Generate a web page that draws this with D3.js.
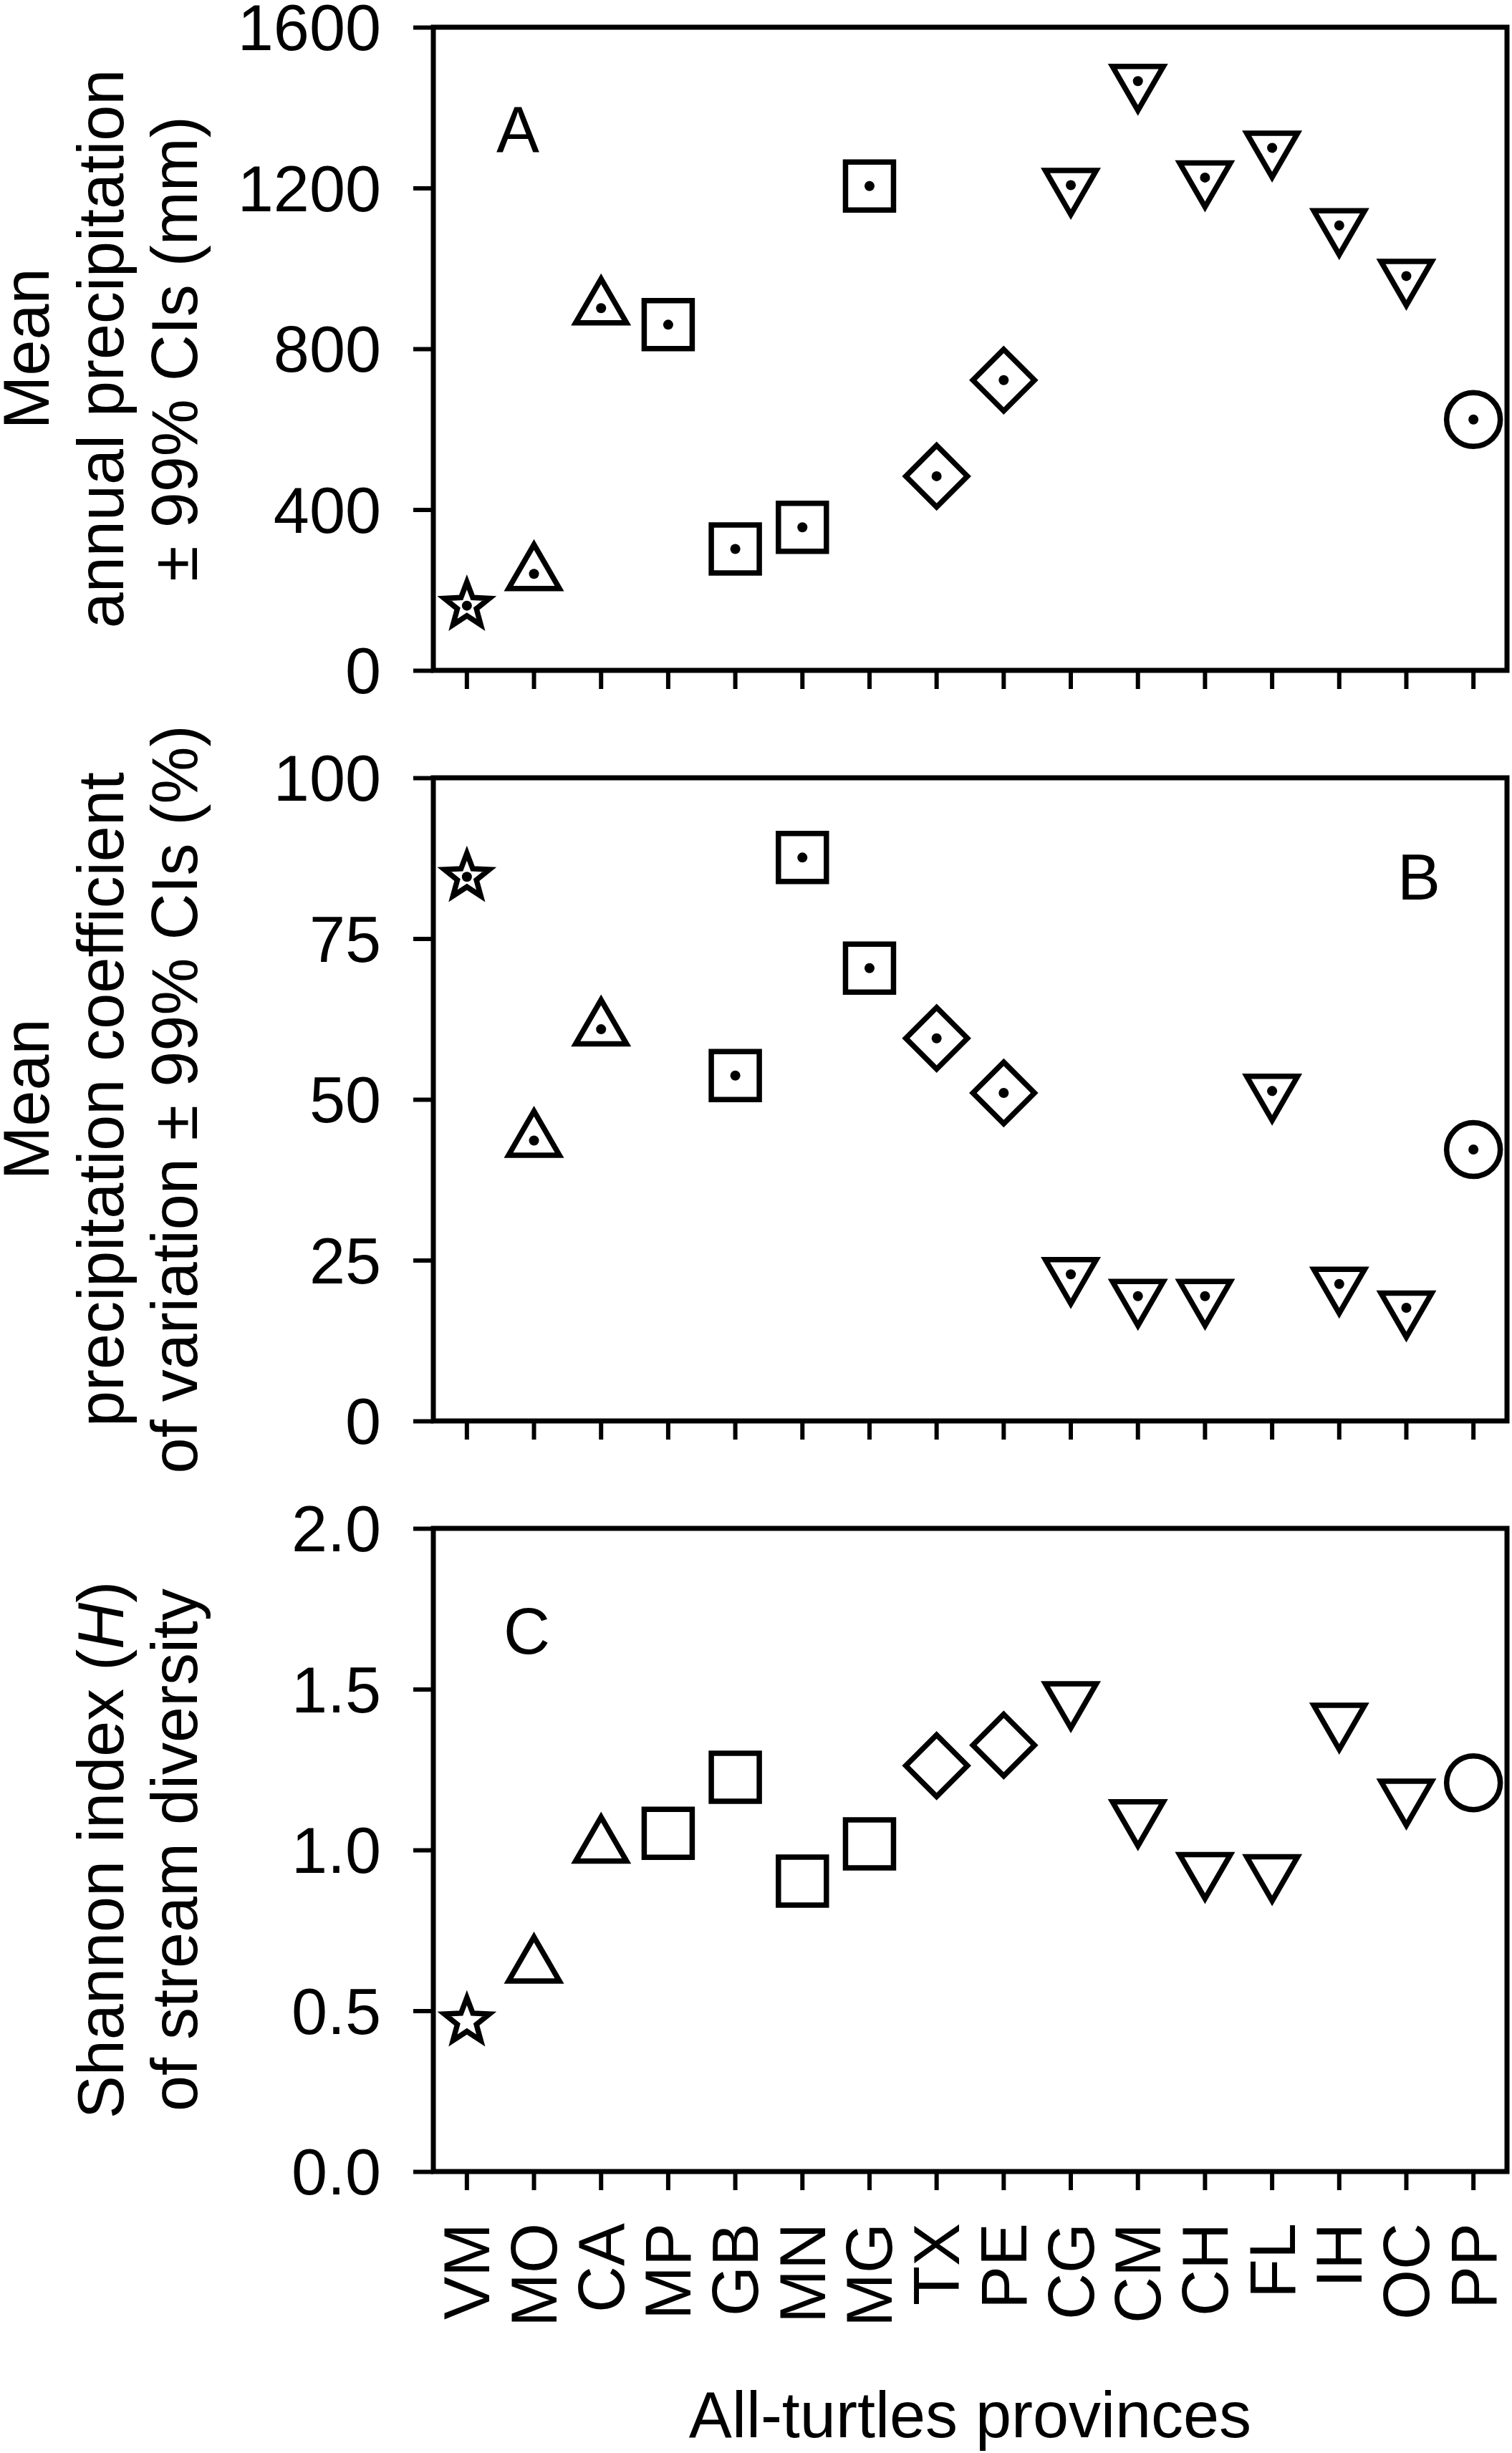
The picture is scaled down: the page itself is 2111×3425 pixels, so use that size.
<!DOCTYPE html>
<html>
<head>
<meta charset="utf-8">
<style>
  body { margin: 0; background: white; }
  svg { display: block; font-family: 'Liberation Sans', Arial, sans-serif; }
</style>
</head>
<body>
<svg width="2111" height="3425"></svg>
<script src="https://d3js.org/d3.v7.min.js"></script>
<script>
// provinces along the x axis and the marker used for each
const provinces = ["VM","MO","CA","MP","GB","MN","MG","TX","PE","CG","CM","CH","FL","IH","OC","PP"];
const shapes = ["star","triUp","triUp","square","square","square","square","diamond","diamond",
                "triDown","triDown","triDown","triDown","triDown","triDown","circle"];

// panel values
const precipitation = [161, 240, 901, 860, 302, 356, 1205, 483, 722, 1207, 1466, 1226, 1300, 1107, 981, 624];
const precipCV = [84.6, 43.6, 60.9, null, 53.7, 87.6, 70.4, 59.5, 51.0, 22.8, 19.4, 19.4, 51.3, 21.3, 17.6, 42.2];
const shannon = [0.467, 0.638, 1.011, 1.052, 1.226, 0.903, 1.019, 1.262, 1.326, 1.471, 1.104, 0.940, 0.933, 1.404, 1.168, 1.209];

const ticksA = [0, 400, 800, 1200, 1600];
const ticksB = [0, 25, 50, 75, 100];
const ticksC = [0, 0.5, 1.0, 1.5, 2.0];

const panels = [
  {values: precipitation, ticks: ticksA, fmt: d3.format("d"), letter: "A", lx: 88, ly: 174, dots: true,
   title: ["Mean", "annual precipitation", "± 99% CIs (mm)"], top: 38},
  {values: precipCV, ticks: ticksB, fmt: d3.format("d"), letter: "B", lx: 1346, ly: 170, dots: true,
   title: ["Mean", "precipitation coefficient", "of variation ± 99% CIs (%)"], top: 1086},
  {values: shannon, ticks: ticksC, fmt: d3.format(".1f"), letter: "C", lx: 98, ly: 175, dots: false,
   title: ["Shannon index (<H>)", "of stream diversity"], top: 2134}
];

const left = 605, right = 2104, ph = 898;
const fontSize = 90;
const svg = d3.select("svg");
svg.append("rect").attr("width", 2111).attr("height", 3425).attr("fill", "white");

const x = d3.scaleBand().domain(provinces).range([left, right]);
const cx = d => x(d) + x.bandwidth() / 2;

// marker path strings centred at 0,0
function markerPath(s) {
  const p = d3.path();
  if (s === "square") {
    p.rect(-33.5, -33.5, 67, 67);
  } else if (s === "diamond") {
    p.moveTo(0, -43); p.lineTo(43, 0); p.lineTo(0, 43); p.lineTo(-43, 0); p.closePath();
  } else if (s === "circle") {
    p.arc(0, 0, 37.5, 0, 2 * Math.PI);
  } else if (s === "triUp" || s === "triDown") {
    const R = 41, k = s === "triUp" ? 1 : -1;
    p.moveTo(0, -R * k);
    p.lineTo(R * Math.sin(Math.PI / 3), R / 2 * k);
    p.lineTo(-R * Math.sin(Math.PI / 3), R / 2 * k);
    p.closePath();
  } else if (s === "star") {
    const R = 33, r = 14;
    for (let i = 0; i < 10; i++) {
      const a = i * Math.PI / 5;
      const rr = i % 2 === 0 ? R : r;
      const px = rr * Math.sin(a), py = -rr * Math.cos(a);
      if (i === 0) p.moveTo(px, py); else p.lineTo(px, py);
    }
    p.closePath();
  }
  return p.toString();
}

panels.forEach((pn, i) => {
  const y = d3.scaleLinear().domain([pn.ticks[0], pn.ticks[pn.ticks.length - 1]]).range([pn.top + ph, pn.top]);
  const g = svg.append("g");

  // y axis ticks
  const ya = g.append("g").attr("transform", `translate(${left},0)`)
    .call(d3.axisLeft(y).tickValues(pn.ticks).tickFormat(pn.fmt).tickSize(28).tickPadding(45));
  ya.select(".domain").remove();
  ya.selectAll(".tick line").attr("stroke", "black").attr("stroke-width", 6);
  ya.selectAll(".tick text").attr("font-size", fontSize).attr("font-family", "'Liberation Sans', Arial, sans-serif")
    .attr("fill", "black").attr("dy", "0.35em");

  // x axis ticks
  const last = i === panels.length - 1;
  const xa = g.append("g").attr("transform", `translate(0,${pn.top + ph})`)
    .call(d3.axisBottom(x).tickSize(26).tickFormat(last ? null : ""));
  xa.select(".domain").remove();
  xa.selectAll(".tick line").attr("stroke", "black").attr("stroke-width", 6);
  if (last) {
    xa.selectAll(".tick text")
      .attr("font-size", fontSize).attr("font-family", "'Liberation Sans', Arial, sans-serif").attr("fill", "black")
      .attr("text-anchor", "end")
      .attr("transform", "translate(0,72) rotate(-90)")
      .attr("x", 0).attr("y", 0).attr("dy", "0.35em");
  } else {
    xa.selectAll(".tick text").remove();
  }

  // frame
  g.append("rect").attr("x", left).attr("y", pn.top).attr("width", right - left).attr("height", ph)
    .attr("fill", "none").attr("stroke", "black").attr("stroke-width", 7);

  // markers
  const pts = provinces.map((p, j) => ({p, s: shapes[j], v: pn.values[j]})).filter(d => d.v != null);
  const m = g.append("g").selectAll("g").data(pts).join("g")
    .attr("transform", d => `translate(${cx(d.p)},${y(d.v)})`);
  m.append("path").attr("d", d => markerPath(d.s))
    .attr("fill", "none").attr("stroke", "black").attr("stroke-width", 7.5)
    .attr("stroke-linejoin", "miter");
  if (pn.dots) m.append("circle").attr("r", 7).attr("fill", "black");

  // panel letter
  g.append("text").attr("x", left + pn.lx).attr("y", pn.top + pn.ly)
    .attr("font-size", fontSize).text(pn.letter);

  // y title, lines stacked so that the last one sits at x = 275
  const base = [68, 172, 275];
  const lines = pn.title;
  const off = base.length - lines.length;
  lines.forEach((ln, k) => {
    const t = g.append("text")
      .attr("transform", `translate(${base[k + off]},${pn.top + ph / 2}) rotate(-90)`)
      .attr("text-anchor", "middle").attr("font-size", fontSize);
    const parts = ln.split(/<|>/);
    parts.forEach((pt, q) => {
      if (pt) t.append("tspan").attr("font-style", q % 2 === 1 ? "italic" : null).text(pt);
    });
  });
});

// x title
svg.append("text").attr("x", (left + right) / 2).attr("y", 3403)
  .attr("text-anchor", "middle").attr("font-size", fontSize).text("All-turtles provinces");
</script>
</body>
</html>
